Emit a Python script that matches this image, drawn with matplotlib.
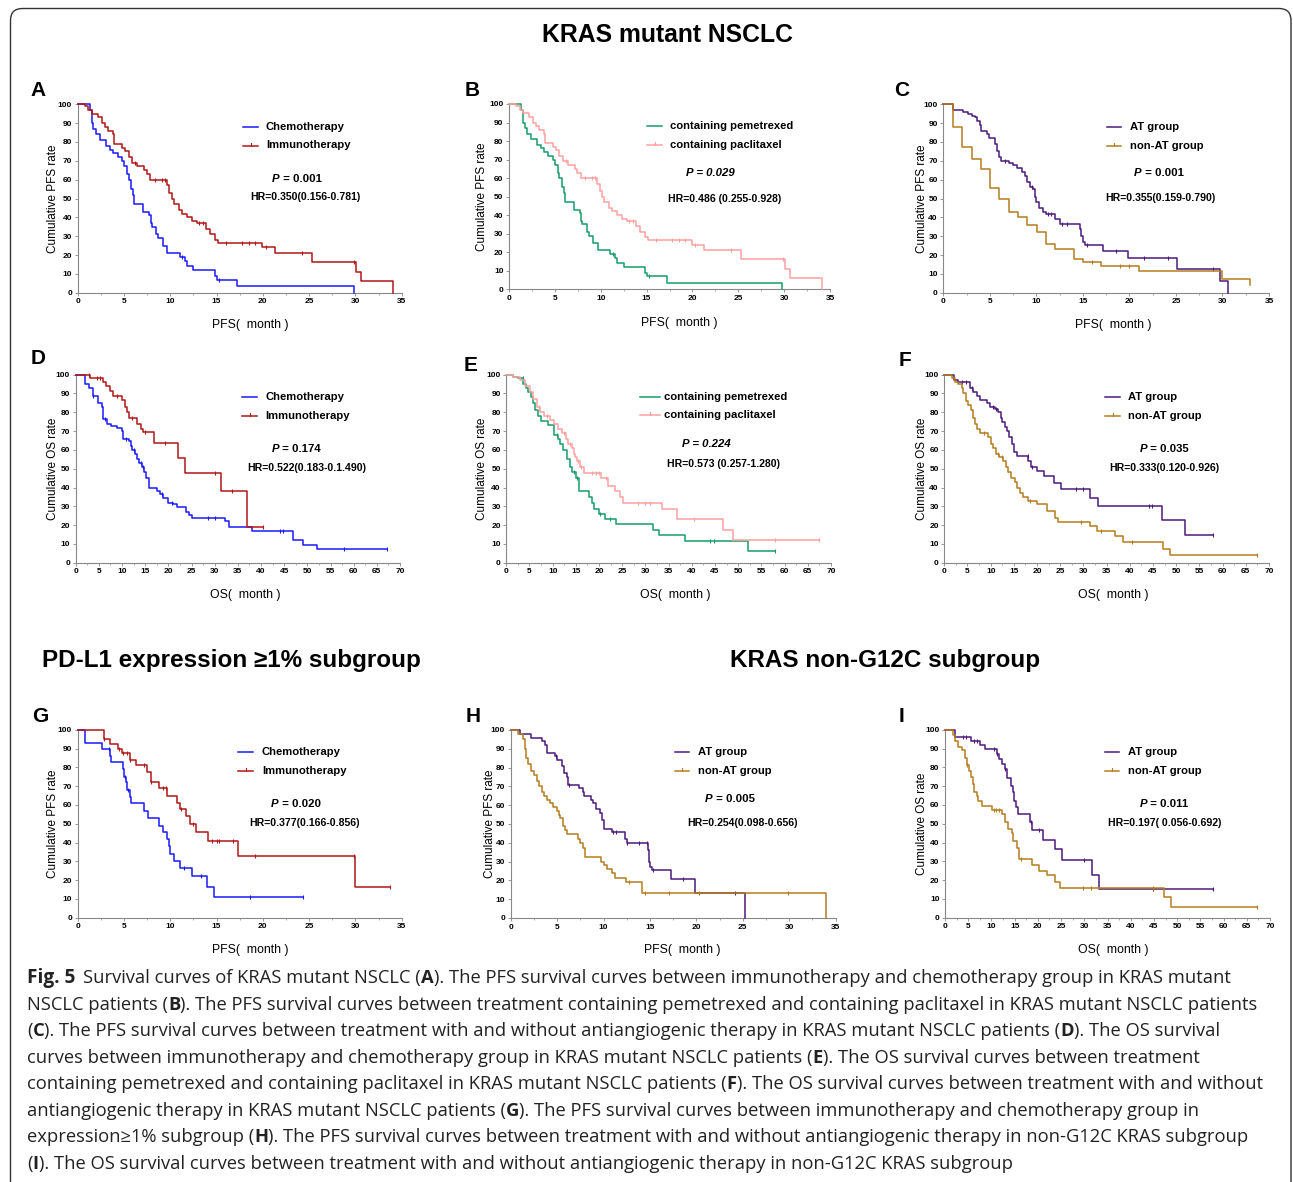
import numpy as np
import matplotlib
matplotlib.use("Agg")
import matplotlib.pyplot as plt
from matplotlib import font_manager
from matplotlib.lines import Line2D
from matplotlib.patches import FancyBboxPatch
from matplotlib.ticker import MultipleLocator

W, H, DPI = 1293, 1182, 100
plt.rcParams['font.family'] = ['Liberation Sans', 'DejaVu Sans']

# --- KM step data: time of each step, survival (%) after it, censor times ---
chemo_pfs_t = [0, 1.3, 1.5, 1.7, 2.0, 2.4, 3.1, 3.5, 3.85, 4.3, 4.8, 5.0, 5.3, 5.5, 5.8, 6.0, 6.1, 7.1, 7.75, 7.9,
               8.0, 8.5, 8.7, 9.2, 9.7, 11.05, 11.6, 11.8, 12.5, 14.8, 15.0, 17.25, 29.8]
chemo_pfs_s = [100, 97, 90, 87, 84, 81, 78, 76, 74, 72, 70, 67, 63, 60, 55, 52, 47, 43, 41, 37,
               35, 31, 29, 25, 21, 19, 17, 14, 12, 9, 7, 3.5, 0]
chemo_pfs_c = [11.3, 15.3]

immuno_pfs_t = [0, 0.8, 1.15, 1.5, 2.2, 2.6, 2.95, 3.3, 3.8, 3.9, 4.75, 5.1, 5.5, 5.85, 6.45, 7.15, 7.45, 7.8, 9.6, 9.9,
                10.15, 10.4, 10.9, 11.25, 11.8, 12.3, 12.85, 13.9, 14.3, 14.85, 15.2, 19.9, 21.3, 25.3, 30.05, 30.6, 34.1]
immuno_pfs_s = [100, 99, 97, 95, 93, 90, 88, 86, 84, 79, 77, 75, 72, 69, 67, 65, 63, 60, 57, 53,
                50, 47, 44, 42, 40, 38, 37, 34, 31, 28, 26.5, 24, 21, 16.5, 11, 6, 0]
immuno_pfs_c = [6.2, 8.3, 9.1, 9.4, 13.1, 13.5, 16.0, 17.8, 18.5, 19.2, 20.3, 24.2, 29.9]

# panel B shows the same curves as panel A
pem_pfs_t, pem_pfs_s, pem_pfs_c = chemo_pfs_t, chemo_pfs_s, chemo_pfs_c
pac_pfs_t, pac_pfs_s, pac_pfs_c = immuno_pfs_t, immuno_pfs_s, immuno_pfs_c

at_pfs_t = [0, 1.0, 2.15, 2.7, 3.05, 3.4, 3.65, 3.9, 4.0, 4.65, 4.95, 5.55, 5.75, 6.0, 6.15, 7.1, 7.5, 7.95, 8.5, 8.8,
            9.0, 9.3, 9.65, 9.9, 10.0, 10.3, 10.7, 11.0, 12.0, 12.55, 14.7, 14.85, 15.05, 15.2, 17.2, 19.9, 25.15, 29.75, 30.6]
at_pfs_s = [100, 97, 96, 95, 94, 93, 91, 89, 86, 84, 82, 79, 75, 72, 70, 69, 68, 66, 64, 62,
            59, 56, 55, 51, 48, 45, 43, 42, 39, 36.5, 34, 30, 27, 25.5, 22, 18.5, 12.5, 6, 0]
at_pfs_c = [6.6, 9.5, 11.3, 11.6, 12.8, 13.3, 15.4, 18.6, 21.6, 24.2, 29.0]

nonat_pfs_t = [0, 1.0, 2.05, 3.05, 4.05, 5.0, 6.0, 7.05, 8.0, 9.0, 10.05, 11.0, 12.0, 14.0, 15.0, 17.0, 21.0, 29.9, 33.0]
nonat_pfs_s = [100, 88, 77.5, 71, 65.5, 55.5, 50, 43, 40, 36, 32, 26, 23, 18, 16.5, 14, 11.5, 7.5, 4]
nonat_pfs_c = [16.0, 19.0, 20.0]

chemo_os_t = [0, 1.9, 2.95, 3.8, 4.9, 5.6, 6.0, 6.85, 7.55, 8.85, 9.9, 10.15, 11.4, 11.95, 12.15, 12.9, 13.2, 13.75, 14.3, 14.75,
              15.2, 15.9, 17.5, 18.2, 18.9, 19.85, 21.1, 21.8, 23.75, 24.45, 25.0, 32.2, 33.1, 38.0, 47.0, 49.1, 52.15, 67.3]
chemo_os_s = [100, 95, 93, 88.5, 85, 83, 76.5, 74, 72.5, 71.5, 70, 66, 65, 62, 60, 58, 55, 53, 51, 48,
              45, 39.5, 38, 36.5, 34.5, 32, 31, 29.5, 27, 25.5, 24, 22, 19, 17, 12, 9.5, 7.5, 7.5]
chemo_os_c = [3.8, 6.4, 10.8, 12.6, 14.0, 14.5, 18.6, 20.8, 28.5, 30.0, 44.0, 44.7, 58.0, 67.3]

immuno_os_t = [0, 3.1, 5.8, 6.55, 7.4, 8.0, 9.9, 10.65, 11.15, 11.6, 13.15, 14.1, 14.45, 16.9, 22.0, 23.6, 31.35, 36.9, 40.5]
immuno_os_s = [100, 98, 96, 94, 91.5, 88.5, 86.5, 83, 80, 77, 74, 71, 69.5, 63.5, 55.5, 47.5, 38, 19, 19]
immuno_os_c = [2.8, 4.6, 5.2, 8.9, 12.2, 15.0, 19.2, 30.0, 33.8, 40.5]

pem_os_t = [0, 1.5, 2.6, 3.7, 4.2, 4.75, 5.25, 5.7, 6.2, 6.75, 7.5, 9.05, 10.3, 11.2, 11.6, 12.3, 13.0, 13.7, 14.1, 14.95,
            15.75, 17.8, 18.4, 18.8, 19.95, 21.3, 23.65, 31.7, 33.0, 38.5, 52.0, 58.0]
pem_os_s = [100, 99, 98, 95, 93, 91, 88, 85, 81, 78, 75.5, 73.5, 68, 66, 63, 60, 55, 51, 48, 45,
            38, 35, 32, 28.5, 26, 23.5, 20.5, 17.5, 14.5, 11.5, 6, 6]
pem_os_c = [3.5, 11.0, 14.5, 15.2, 20.3, 22.3, 44.0, 44.7, 58.0]

pac_os_t = [0, 1.5, 2.9, 4.0, 5.1, 5.8, 6.55, 7.25, 8.1, 9.4, 10.3, 11.2, 12.0, 12.9, 13.4, 14.1, 14.5, 14.8, 15.3, 15.9,
            16.75, 20.35, 22.0, 23.45, 24.5, 25.25, 33.5, 36.9, 46.8, 48.8, 67.4]
pac_os_s = [100, 99, 97, 94, 91, 87, 83, 80, 78, 76, 74, 71, 69, 66, 63, 61, 58, 56, 54, 51,
            47.5, 45, 41, 38, 35, 32, 28.5, 23.5, 17.5, 12, 12]
pac_os_c = [7.0, 8.8, 12.5, 13.8, 15.5, 16.2, 18.5, 19.3, 20.0, 21.5, 28.5, 30.0, 31.0, 40.5, 58.0, 67.4]

at_os_t = [0, 2.1, 3.0, 5.5, 6.25, 7.1, 7.8, 9.1, 9.85, 10.9, 11.65, 12.15, 12.5, 13.1, 13.6, 14.0, 14.5, 15.0, 15.6, 18.1,
           18.7, 19.9, 21.5, 23.7, 25.1, 31.4, 33.2, 46.9, 51.9, 58.0]
at_os_s = [100, 97, 96, 93, 91, 88.5, 86.5, 85, 83, 82, 80, 77, 75, 72, 70, 67, 63, 59, 56.5, 54,
           51, 49, 46, 42.5, 39, 34.5, 30, 22.5, 15, 15]
at_os_c = [3.8, 4.6, 6.0, 10.5, 11.2, 18.0, 19.0, 28.5, 30.0, 44.2, 44.8, 58.0]

nonat_os_t = [0, 1.6, 2.3, 3.0, 3.75, 4.1, 4.7, 5.2, 5.7, 6.1, 6.6, 7.1, 7.7, 9.5, 10.0, 10.55, 11.15, 11.85, 12.7, 13.3,
              13.8, 14.3, 15.25, 15.75, 16.3, 17.0, 18.1, 19.9, 22.1, 23.85, 24.6, 31.4, 32.85, 36.8, 38.6, 47.2, 48.7, 67.4]
nonat_os_s = [100, 98, 96, 95, 93, 90, 86, 84, 81, 77, 74, 71, 69, 67, 63, 61, 58, 56, 54, 51,
              48, 45, 43, 40, 37, 35, 33, 31, 27.5, 24, 21.5, 19.5, 17, 14, 11, 7.5, 4, 4]
nonat_os_c = [8.5, 11.5, 12.5, 18.5, 29.5, 33.8, 40.5, 67.4]

pdl1_chemo_t = [0, 0.8, 2.6, 3.5, 3.65, 4.85, 5.0, 5.2, 5.35, 5.6, 5.75, 7.15, 7.6, 8.8, 9.2, 9.7, 9.85, 10.0, 10.35, 11.0,
                12.4, 13.95, 14.7, 24.3]
pdl1_chemo_s = [100, 93, 89.5, 86, 83, 79, 75, 72, 68, 64, 61, 57, 53, 49, 45.5, 42, 38, 34, 30, 26.5,
                22, 16.5, 11, 11]
pdl1_chemo_c = [3.4, 5.1, 5.4, 11.5, 13.3, 18.6, 24.3]

pdl1_immuno_t = [0, 2.8, 3.5, 4.3, 4.75, 5.6, 6.3, 7.5, 7.9, 8.8, 9.7, 10.7, 11.0, 11.7, 12.15, 12.8, 14.1, 17.35, 29.95, 33.7]
pdl1_immuno_s = [100, 95, 92.5, 90, 87.5, 84, 81, 77.5, 72, 69, 65, 61, 58, 54, 50, 45.5, 41, 33, 16.5, 16.5]
pdl1_immuno_c = [2.8, 4.5, 4.9, 5.3, 5.7, 7.2, 7.9, 9.2, 9.5, 11.2, 12.5, 14.5, 15.0, 15.3, 16.8, 19.2, 29.8, 33.7]

g12c_at_pfs_t = [0, 1.0, 2.15, 3.35, 3.7, 3.95, 4.8, 4.95, 5.5, 5.75, 6.05, 6.2, 7.4, 7.8, 7.9, 8.65, 8.9, 9.2, 9.6, 9.8,
                 10.0, 10.9, 12.3, 12.5, 14.75, 14.9, 15.0, 15.2, 17.25, 19.85, 25.25]
g12c_at_pfs_s = [100, 98, 96, 94, 92, 88, 86, 84, 81, 77, 75, 71, 69, 67, 65, 63, 61, 58, 56, 52,
                 47.5, 45.5, 42, 40, 36, 30, 27, 25.5, 20.5, 13.5, 0]
g12c_at_pfs_c = [4.9, 6.3, 11.0, 11.3, 12.5, 13.8, 14.7, 15.3, 18.6, 24.2]

g12c_nonat_pfs_t = [0, 0.8, 1.35, 1.55, 1.7, 1.9, 2.15, 2.5, 2.8, 3.1, 3.35, 3.6, 3.9, 4.25, 4.6, 4.95, 5.15, 5.3, 5.65, 5.85,
                    6.05, 7.2, 7.45, 7.75, 8.0, 9.7, 10.05, 10.35, 10.9, 11.25, 12.4, 14.1, 34.0]
g12c_nonat_pfs_s = [100, 98, 95, 90, 85, 82, 78, 76, 73, 70, 67, 65, 63, 61, 59, 57, 55, 53, 49, 47,
                    44.5, 42, 40, 37, 32.5, 30, 28, 26, 24, 21.5, 19, 13.5, 0]
g12c_nonat_pfs_c = [12.7, 14.5, 17.0, 20.3, 29.9]

g12c_at_os_t = [0, 2.15, 5.5, 7.55, 8.6, 11.1, 11.7, 12.2, 12.9, 13.3, 14.15, 14.6, 14.85, 15.3, 15.8, 18.3, 18.7, 21.2, 23.7, 25.1,
                31.6, 33.25, 57.8]
g12c_at_os_s = [100, 96, 94, 92, 89.5, 87, 84.5, 81.5, 79, 74.5, 70, 67, 62, 59, 55, 51, 46.5, 41.5, 36.5, 30.5,
                22.5, 15.5, 15.5]
g12c_at_os_c = [3.8, 4.6, 6.2, 6.9, 10.6, 11.2, 13.0, 18.6, 20.3, 30.0, 44.7, 57.8]

g12c_nonat_os_t = [0, 1.65, 2.15, 2.9, 3.6, 4.3, 4.65, 5.25, 5.6, 5.95, 6.25, 6.8, 7.2, 7.9, 10.05, 12.2, 12.9, 13.65, 14.35, 14.7,
                   15.6, 16.0, 18.65, 20.3, 21.9, 23.7, 24.75, 47.15, 48.6, 67.1]
g12c_nonat_os_s = [100, 97, 94, 91, 89, 85, 81, 78, 75, 71, 67, 65, 62, 59.5, 57.5, 55, 51, 47, 45, 41,
                   37, 31, 28, 25, 22.5, 19, 16, 11, 5.5, 5.5]
g12c_nonat_os_c = [4.8, 10.5, 11.0, 11.6, 16.3, 29.8, 31.5, 44.7, 67.1]

BLUE, RED = '#1a1aff', '#b01818'
GREEN, PINK = '#179c6b', '#ffa0a0'
PURPLE, BROWN = '#4b1a7a', '#b47c1f'

B, N, I, BI = ('bold', 'normal'), ('normal', 'normal'), ('normal', 'italic'), ('bold', 'italic')

panels = [
    dict(tag="A", tagxy=(38, 90), box=(77.7, 104.3, 401.7, 292.7), xmax=35, kind="PFS",
         curves=[(chemo_pfs_t, chemo_pfs_s, chemo_pfs_c, BLUE), (immuno_pfs_t, immuno_pfs_s, immuno_pfs_c, RED)],
         names=["Chemotherapy", "Immunotherapy"], leg=(243, 258, 266, 126.7, 145.5),
         p=[("P", BI), (" = 0.001", B)], pxy=(297, 179), hr="HR=0.350(0.156-0.781)", hrxy=(305, 197.5),
         ylx=53, xl=(250, 325)),
    dict(tag="B", tagxy=(472, 90), box=(509, 104, 830, 289.3), xmax=35, kind="PFS",
         curves=[(pem_pfs_t, pem_pfs_s, pem_pfs_c, GREEN), (pac_pfs_t, pac_pfs_s, pac_pfs_c, PINK)],
         names=["containing pemetrexed", "containing paclitaxel"], leg=(647, 662, 670, 125.7, 144.5),
         p=[("P = 0.029", BI)], pxy=(710, 173.3), hr="HR=0.486 (0.255-0.928)", hrxy=(725, 199),
         ylx=481.7, xl=(679, 323)),
    dict(tag="C", tagxy=(902, 90), box=(943.3, 104.3, 1269, 292.7), xmax=35, kind="PFS",
         curves=[(at_pfs_t, at_pfs_s, at_pfs_c, PURPLE), (nonat_pfs_t, nonat_pfs_s, nonat_pfs_c, BROWN)],
         names=["AT group", "non-AT group"], leg=(1107, 1121, 1130, 126.7, 145.7),
         p=[("P", BI), (" = 0.001", B)], pxy=(1159, 173.3), hr="HR=0.355(0.159-0.790)", hrxy=(1160, 197.7),
         ylx=921.7, xl=(1113, 325)),
    dict(tag="D", tagxy=(38, 358), box=(75.7, 374.7, 400, 562.7), xmax=70, kind="OS",
         curves=[(chemo_os_t, chemo_os_s, chemo_os_c, BLUE), (immuno_os_t, immuno_os_s, immuno_os_c, RED)],
         names=["Chemotherapy", "Immunotherapy"], leg=(242, 257, 265, 396.7, 415.7),
         p=[("P", BI), (" = 0.174", B)], pxy=(296, 449), hr="HR=0.522(0.183-0.1.490)", hrxy=(307, 467.7),
         ylx=53, xl=(245, 595)),
    dict(tag="E", tagxy=(471, 365), box=(506.3, 374.7, 831, 562.7), xmax=70, kind="OS",
         curves=[(pem_os_t, pem_os_s, pem_os_c, GREEN), (pac_os_t, pac_os_s, pac_os_c, PINK)],
         names=["containing pemetrexed", "containing paclitaxel"], leg=(640, 660, 664, 396.7, 415),
         p=[("P = 0.224", BI)], pxy=(706, 444.3), hr="HR=0.573 (0.257-1.280)", hrxy=(723, 464),
         ylx=481.7, xl=(675, 595)),
    dict(tag="F", tagxy=(905, 361), box=(944.3, 374.7, 1269, 562.7), xmax=70, kind="OS",
         curves=[(at_os_t, at_os_s, at_os_c, PURPLE), (nonat_os_t, nonat_os_s, nonat_os_c, BROWN)],
         names=["AT group", "non-AT group"], leg=(1105, 1120, 1128, 396.7, 415.7),
         p=[("P", BI), (" = 0.035", B)], pxy=(1164, 449), hr="HR=0.333(0.120-0.926)", hrxy=(1164, 467.7),
         ylx=921.7, xl=(1113, 595)),
    dict(tag="G", tagxy=(40, 717), box=(77.7, 729.7, 401.7, 917.7), xmax=35, kind="PFS",
         curves=[(pdl1_chemo_t, pdl1_chemo_s, pdl1_chemo_c, BLUE), (pdl1_immuno_t, pdl1_immuno_s, pdl1_immuno_c, RED)],
         names=["Chemotherapy", "Immunotherapy"], leg=(238, 253, 262, 751.7, 770.7),
         p=[("P", BI), (" = 0.020", B)], pxy=(296, 804), hr="HR=0.377(0.166-0.856)", hrxy=(305, 822.7),
         ylx=53, xl=(250, 950)),
    dict(tag="H", tagxy=(473, 717), box=(510.7, 730, 835.7, 918), xmax=35, kind="PFS",
         curves=[(g12c_at_pfs_t, g12c_at_pfs_s, g12c_at_pfs_c, PURPLE),
                 (g12c_nonat_pfs_t, g12c_nonat_pfs_s, g12c_nonat_pfs_c, BROWN)],
         names=["AT group", "non-AT group"], leg=(675, 689, 698, 752.3, 770.7),
         p=[("P", BI), (" = 0.005", B)], pxy=(730, 799), hr="HR=0.254(0.098-0.656)", hrxy=(742, 822.7),
         ylx=490, xl=(682, 950)),
    dict(tag="I", tagxy=(902, 717), box=(945, 729.7, 1270, 917.7), xmax=70, kind="OS",
         curves=[(g12c_at_os_t, g12c_at_os_s, g12c_at_os_c, PURPLE),
                 (g12c_nonat_os_t, g12c_nonat_os_s, g12c_nonat_os_c, BROWN)],
         names=["AT group", "non-AT group"], leg=(1105, 1119, 1128, 751.7, 770.7),
         p=[("P", BI), (" = 0.011", B)], pxy=(1164, 804), hr="HR=0.197( 0.056-0.692)", hrxy=(1165, 822.7),
         ylx=921.7, xl=(1113, 950)),
]

fig = plt.figure(figsize=(W / DPI, H / DPI), dpi=DPI)
renderer = fig.canvas.get_renderer()


def fx(x):
    return x / W


def fy(y):
    return 1 - y / H


def seg_text(x, y, segs, size, ha='left', family=None, color='black'):
    objs, widths = [], []
    for s, (w, st) in segs:
        kw = dict(fontsize=size, fontweight=w, fontstyle=st, va='center', ha='left', color=color)
        if family:
            kw['family'] = family
        t = fig.text(0, 0, s, **kw)
        widths.append(t.get_window_extent(renderer).width)
        objs.append(t)
    x0 = x - sum(widths) / 2 if ha == 'center' else x
    for t, wd in zip(objs, widths):
        t.set_position((fx(x0), fy(y)))
        x0 += wd


# rounded frame
fig.patches.append(FancyBboxPatch((10.5, -30), 1280.5, H - 8.5 + 30, boxstyle="round,pad=0,rounding_size=12",
                                  transform=None, fill=False, edgecolor='#333333', linewidth=1.0))

fig.text(fx(668), fy(35), "KRAS mutant NSCLC", fontsize=17.8, fontweight='bold', ha='center', va='center')
fig.text(fx(231), fy(660), "PD-L1 expression ≥1% subgroup", fontsize=17.5, fontweight='bold', ha='center', va='center')
fig.text(fx(885), fy(660), "KRAS non-G12C subgroup", fontsize=17.5, fontweight='bold', ha='center', va='center')

for p in panels:
    x0, y1, x1, y0 = p['box']
    ax = fig.add_axes([fx(x0), fy(y0), (x1 - x0) / W, (y0 - y1) / H])
    ax.patch.set_alpha(0)
    for t, s, c, col in p['curves']:
        ax.plot(t, s, drawstyle='steps-post', color=col, lw=1.1, clip_on=False, zorder=3)
        idx = np.searchsorted(t, c, side='right') - 1
        ax.plot(c, np.array(s)[idx], ls='none', marker='|', ms=3.5, mew=0.8, color=col, clip_on=False, zorder=3)
    ax.set_xlim(0, p['xmax'])
    ax.set_ylim(0, 100)
    ax.xaxis.set_major_locator(MultipleLocator(5))
    ax.xaxis.set_minor_locator(MultipleLocator(2.5))
    ax.yaxis.set_major_locator(MultipleLocator(10))
    for side in ('top', 'right'):
        ax.spines[side].set_visible(False)
    for side in ('left', 'bottom'):
        ax.spines[side].set_color('#888888')
        ax.spines[side].set_linewidth(0.8)
    ax.tick_params(which='major', length=2.5, width=0.6, color='#888888', pad=1.5, labelsize=6)
    ax.tick_params(which='minor', length=1.5, width=0.5, color='#888888')
    for lab in ax.get_xticklabels() + ax.get_yticklabels():
        lab.set_fontweight('bold')

    yc = (y0 + y1) / 2
    fig.text(fx(p['ylx']), fy(yc), f"Cumulative {p['kind']} rate", fontsize=8.5, rotation=90,
             ha='center', va='center')
    fig.text(fx(p['xl'][0]), fy(p['xl'][1]), f"{p['kind']}(  month )", fontsize=8.8, ha='center', va='center')
    fig.text(fx(p['tagxy'][0]), fy(p['tagxy'][1]), p['tag'], fontsize=15, fontweight='bold', ha='center', va='center')

    lx0, lx1, tx, r1, r2 = p['leg']
    for k, (row, name) in enumerate(zip((r1, r2), p['names'])):
        col = p['curves'][k][3]
        fig.add_artist(Line2D([fx(lx0), fx(lx1)], [fy(row), fy(row)], color=col, lw=1.1))
        if k == 1:
            xm = (lx0 + lx1) / 2
            fig.add_artist(Line2D([fx(xm), fx(xm)], [fy(row), fy(row - 3)], color=col, lw=0.8))
        fig.text(fx(tx), fy(row), name, fontsize=8.1, fontweight='bold', ha='left', va='center')

    seg_text(p['pxy'][0], p['pxy'][1], p['p'], 8.2, ha='center')
    fig.text(fx(p['hrxy'][0]), fy(p['hrxy'][1]), p['hr'], fontsize=7.6, fontweight='bold', ha='center', va='center')

# --- caption ---
ttf = font_manager.fontManager.ttflist


def has_bold(name):
    return any(f.name == name and str(f.weight) in ('700', 'bold') for f in ttf)


cap_font = next((f for f in ['Open Sans', 'Noto Sans', 'Lato', 'Liberation Sans'] if has_bold(f)), 'DejaVu Sans')
cap_family = [cap_font, 'DejaVu Sans']

caption = [
    [("Survival curves of KRAS mutant NSCLC (", N), ("A", B),
     ("). The PFS survival curves between immunotherapy and chemotherapy group in KRAS mutant", N)],
    [("NSCLC patients (", N), ("B", B),
     ("). The PFS survival curves between treatment containing pemetrexed and containing paclitaxel in KRAS mutant NSCLC patients", N)],
    [("(", N), ("C", B),
     ("). The PFS survival curves between treatment with and without antiangiogenic therapy in KRAS mutant NSCLC patients (", N),
     ("D", B), ("). The OS survival", N)],
    [("curves between immunotherapy and chemotherapy group in KRAS mutant NSCLC patients (", N), ("E", B),
     ("). The OS survival curves between treatment", N)],
    [("containing pemetrexed and containing paclitaxel in KRAS mutant NSCLC patients (", N), ("F", B),
     ("). The OS survival curves between treatment with and without", N)],
    [("antiangiogenic therapy in KRAS mutant NSCLC patients (", N), ("G", B),
     ("). The PFS survival curves between immunotherapy and chemotherapy group in", N)],
    [("expression≥1% subgroup (", N), ("H", B),
     ("). The PFS survival curves between treatment with and without antiangiogenic therapy in non-G12C KRAS subgroup", N)],
    [("(", N), ("I", B), ("). The OS survival curves between treatment with and without antiangiogenic therapy in non-G12C KRAS subgroup", N)],
]

probe = fig.text(0, 0, "".join(s for s, _ in caption[1]), fontsize=12, family=cap_family)
cap_size = 12 * 1226 / probe.get_window_extent(renderer).width
probe.remove()

fig_lab = fig.text(fx(27), fy(978), "Fig. 5", fontsize=cap_size + 0.5, fontweight='bold', family=cap_family,
                   ha='left', va='center', color='#222222')
lab_w = fig_lab.get_window_extent(renderer).width
for i, line in enumerate(caption):
    x = 27 + lab_w + 8 if i == 0 else 27
    seg_text(x, 978 + i * 26.57, line, cap_size, family=cap_family, color='#222222')

fig.savefig("out.png", dpi=DPI)
